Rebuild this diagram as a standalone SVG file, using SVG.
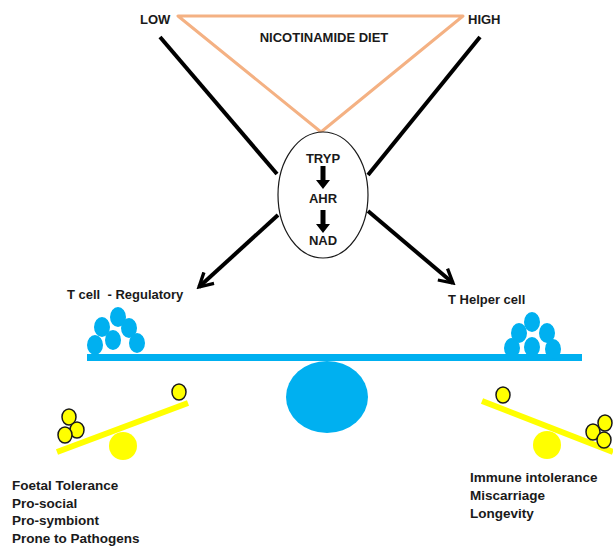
<svg xmlns="http://www.w3.org/2000/svg" width="613" height="547" viewBox="0 0 613 547">
<style>
  text { font-family: "Liberation Sans", Arial, sans-serif; font-weight: bold; fill: #1a1a1a; }
  .lbl { font-size: 13px; }
  .big { font-size: 13.5px; }
  .blk { stroke: #000; stroke-width: 4; fill: none; stroke-linecap: butt; }
  .cellb { fill: #00B0F0; }
  .celly { fill: #FFFF00; stroke: #1a1a1a; stroke-width: 1.5; }
</style>
<defs>
  <marker id="chev" viewBox="0 0 12 12" refX="10" refY="6" markerWidth="4.5" markerHeight="4.5" orient="auto" markerUnits="strokeWidth">
    <path d="M1,1 L10,6 L1,11" fill="none" stroke="#000" stroke-width="2.2" stroke-linejoin="miter"/>
  </marker>
</defs>

<g id="connectors">
  <polygon points="178,16 463,16 321,132" fill="none" stroke="#F4B183" stroke-width="3" stroke-linejoin="round"/>
  <line class="blk" x1="160" y1="37" x2="277" y2="174"/>
  <line class="blk" x1="480" y1="37" x2="368" y2="175"/>
  <line class="blk" x1="278" y1="215" x2="199" y2="287" marker-end="url(#chev)"/>
  <line class="blk" x1="368" y1="211" x2="453" y2="283" marker-end="url(#chev)"/>
</g>

<g id="diet">
  <text class="lbl" x="140" y="24">LOW</text>
  <text class="lbl" x="468" y="24">HIGH</text>
  <text class="lbl" x="324" y="42" text-anchor="middle">NICOTINAMIDE DIET</text>
</g>

<g id="pathway">
  <ellipse cx="323" cy="195" rx="45" ry="63" fill="#fff" stroke="#1a1a1a" stroke-width="1.2"/>
  <text class="lbl" x="323" y="163" text-anchor="middle">TRYP</text>
  <polygon points="320.5,166 325.5,166 325.5,180 330,180 323,189 316,180 320.5,180" fill="#000"/>
  <text class="lbl" x="323" y="203" text-anchor="middle">AHR</text>
  <polygon points="320.5,210 325.5,210 325.5,224 330,224 323,233 316,224 320.5,224" fill="#000"/>
  <text class="lbl" x="323" y="245" text-anchor="middle">NAD</text>
</g>

<g id="treg-label"><text class="lbl" x="67" y="299" xml:space="preserve" style="white-space:pre">T cell  - Regulatory</text></g>
<g id="th-label"><text class="lbl" x="448" y="304">T Helper cell</text></g>

<g id="balance">
  <rect x="87" y="354" width="495" height="7" fill="#00B0F0"/>
  <ellipse cx="327" cy="397" rx="41" ry="36" fill="#00B0F0"/>
</g>

<g id="treg-cells">
  <ellipse class="cellb" cx="118" cy="317" rx="8" ry="10"/>
  <ellipse class="cellb" cx="102" cy="327" rx="8" ry="10"/>
  <ellipse class="cellb" cx="129" cy="328" rx="8" ry="10"/>
  <ellipse class="cellb" cx="95" cy="345" rx="8" ry="10"/>
  <ellipse class="cellb" cx="113" cy="340" rx="8" ry="10"/>
  <ellipse class="cellb" cx="137" cy="343" rx="8" ry="10"/>
</g>

<g id="th-cells">
  <ellipse class="cellb" cx="532" cy="322" rx="8" ry="10"/>
  <ellipse class="cellb" cx="519" cy="333" rx="8" ry="10"/>
  <ellipse class="cellb" cx="547" cy="333" rx="8" ry="10"/>
  <ellipse class="cellb" cx="512" cy="348" rx="8" ry="10"/>
  <ellipse class="cellb" cx="532" cy="347" rx="8" ry="10"/>
  <ellipse class="cellb" cx="553" cy="349" rx="8" ry="10"/>
</g>

<g id="left-seesaw">
  <line x1="57" y1="452" x2="188" y2="403" stroke="#FFFF00" stroke-width="6"/>
  <circle cx="123" cy="446" r="14" fill="#FFFF00"/>
  <ellipse class="celly" cx="179" cy="392" rx="7" ry="8"/>
  <ellipse class="celly" cx="69" cy="417" rx="7" ry="8"/>
  <ellipse class="celly" cx="77" cy="430" rx="7" ry="8"/>
  <ellipse class="celly" cx="65" cy="435" rx="7" ry="8"/>
</g>

<g id="right-seesaw">
  <line x1="482" y1="401" x2="613" y2="452" stroke="#FFFF00" stroke-width="6"/>
  <circle cx="547" cy="445" r="14" fill="#FFFF00"/>
  <ellipse class="celly" cx="503" cy="395" rx="7" ry="8"/>
  <ellipse class="celly" cx="593" cy="432" rx="7" ry="8"/>
  <ellipse class="celly" cx="605" cy="423" rx="7" ry="8"/>
  <ellipse class="celly" cx="604" cy="440" rx="7" ry="8"/>
</g>

<g id="left-outcomes">
  <text class="big" x="12" y="490">Foetal Tolerance</text>
  <text class="big" x="12" y="508">Pro-social</text>
  <text class="big" x="12" y="525">Pro-symbiont</text>
  <text class="big" x="12" y="543">Prone to Pathogens</text>
</g>

<g id="right-outcomes">
  <text class="big" x="470" y="482">Immune intolerance</text>
  <text class="big" x="470" y="500">Miscarriage</text>
  <text class="big" x="470" y="518">Longevity</text>
</g>
</svg>
